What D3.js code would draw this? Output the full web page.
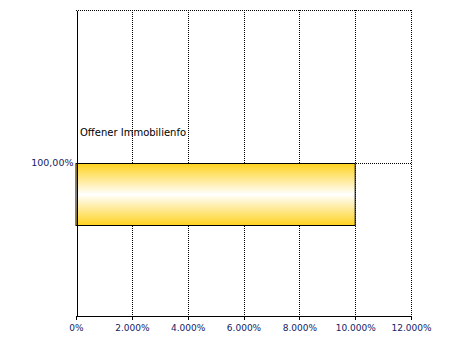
<!DOCTYPE html>
<html>
<head>
<meta charset="utf-8">
<script src="https://cdn.jsdelivr.net/npm/d3@7"></script>
<style>
  html, body { margin: 0; padding: 0; background: #fff; overflow: hidden; }
  svg { display: block; }
  text { font-family: "DejaVu Sans", Tahoma, sans-serif; }
</style>
</head>
<body>
<div id="chart"></div>
<script>
// data
var categories = ["100,00%"];
var seriesNames = ["Offener Immobilienfo"];
var values = [10000];
var xTicks = [0, 2000, 4000, 6000, 8000, 10000, 12000];

var outerWidth = 454;
var outerHeight = 350;
var margin = { left: 76, top: 10, right: 43, bottom: 35 };
var innerWidth = outerWidth - margin.left - margin.right;
var innerHeight = outerHeight - margin.top - margin.bottom;

var svg = d3.select("#chart").append("svg")
    .attr("width", outerWidth)
    .attr("height", outerHeight);

var defs = svg.append("defs");
var grad = defs.append("linearGradient")
    .attr("id", "barGrad")
    .attr("x1", 0).attr("y1", 0).attr("x2", 0).attr("y2", 1);
grad.append("stop").attr("offset", "0%").attr("stop-color", "#ffd21f");
grad.append("stop").attr("offset", "50%").attr("stop-color", "#ffffff");
grad.append("stop").attr("offset", "100%").attr("stop-color", "#ffd21f");

var g = svg.append("g")
    .attr("transform", "translate(" + margin.left + "," + margin.top + ")");

var xScale = d3.scaleLinear().domain([0, 12000]).range([0, innerWidth]);
var yScale = d3.scaleBand().domain(categories).range([0, innerHeight]);
var fmt = function(d) {
    return d === 0 ? "0%" : d3.format(",")(d).replace(/,/g, ".") + "%";
};

// grid
var gridStyle = function(sel) {
    sel.attr("stroke", "#000").attr("stroke-width", 1)
        .attr("stroke-dasharray", "1,1").attr("shape-rendering", "crispEdges");
};
g.selectAll("line.vgrid").data(xTicks.slice(1)).enter().append("line")
    .attr("class", "vgrid")
    .attr("x1", function(d) { return Math.round(xScale(d)) + 0.5; })
    .attr("x2", function(d) { return Math.round(xScale(d)) + 0.5; })
    .attr("y1", 0).attr("y2", innerHeight)
    .call(gridStyle);
g.append("line")
    .attr("x1", 0).attr("x2", innerWidth).attr("y1", 0.5).attr("y2", 0.5)
    .call(gridStyle);
g.selectAll("line.hgrid").data(categories).enter().append("line")
    .attr("class", "hgrid")
    .attr("x1", 0).attr("x2", innerWidth)
    .attr("y1", function(d) { return Math.round(yScale(d) + yScale.bandwidth() / 2) + 0.5; })
    .attr("y2", function(d) { return Math.round(yScale(d) + yScale.bandwidth() / 2) + 0.5; })
    .call(gridStyle);

// bars
var barH = 62;
g.selectAll("rect.bar").data(values).enter().append("rect")
    .attr("class", "bar")
    .attr("x", xScale(0))
    .attr("y", function(d, i) { return Math.round(yScale(categories[i]) + yScale.bandwidth() / 2) + 0.5; })
    .attr("width", function(d) { return xScale(d) - xScale(0); })
    .attr("height", barH)
    .attr("fill", "url(#barGrad)")
    .attr("stroke", "#000")
    .attr("stroke-width", 1);

// series label
g.selectAll("text.series").data(seriesNames).enter().append("text")
    .attr("class", "series")
    .attr("x", 4)
    .attr("y", function(d, i) { return yScale(categories[i]) + yScale.bandwidth() / 2 - 27; })
    .attr("font-size", "10px")
    .attr("fill", "#000")
    .text(function(d) { return d; });

// axes
var xAxis = d3.axisBottom(xScale).tickValues(xTicks).tickFormat(fmt)
    .tickSize(4).tickSizeOuter(0);
var xAxisG = g.append("g")
    .attr("transform", "translate(0," + (innerHeight + 0.5) + ")")
    .call(xAxis);
xAxisG.select(".domain").attr("stroke", "#000").attr("shape-rendering", "crispEdges");
xAxisG.selectAll(".tick line").attr("stroke", "#000").attr("shape-rendering", "crispEdges");
xAxisG.selectAll(".tick text")
    .attr("font-family", "DejaVu Sans")
    .attr("font-size", "9px")
    .attr("fill", "#142268")
    .attr("dy", null)
    .attr("y", 15);

var yAxis = d3.axisLeft(yScale).tickSize(0).tickPadding(3);
var yAxisG = g.append("g")
    .attr("transform", "translate(0.5,0)")
    .call(yAxis);
yAxisG.select(".domain").attr("stroke", "#000").attr("shape-rendering", "crispEdges");
yAxisG.selectAll(".tick text")
    .attr("font-family", "DejaVu Sans")
    .attr("font-size", "9.5px")
    .attr("fill", "#142268");
</script>
</body>
</html>
